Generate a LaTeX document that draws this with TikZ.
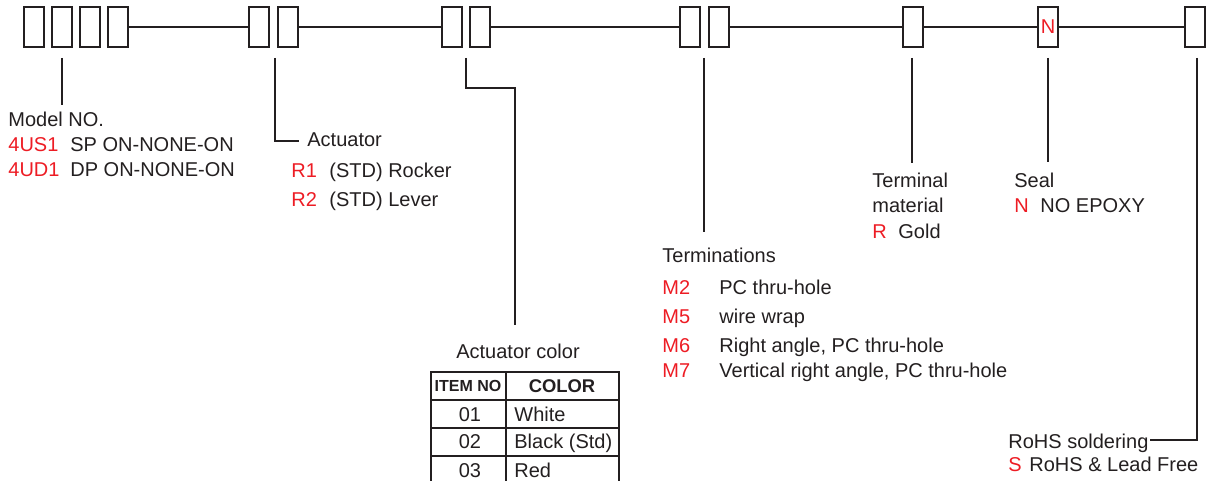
\documentclass[tikz,border=0pt]{standalone}
\usepackage{fontspec}
\setmainfont{Liberation Sans}
\definecolor{codered}{HTML}{ED1C24}
\definecolor{ink}{HTML}{231F20}
\tikzset{
	cell/.style={draw=ink,line width=1pt,minimum width=10pt,minimum height=20pt,inner sep=0pt,outer sep=0pt},
	lbl/.style={anchor=base west,inner sep=0pt,text=ink,font=\fontsize{10}{12}\selectfont},
	code/.style={lbl,text=codered},
	wire/.style={draw=ink,line width=0.9pt},
}
\begin{document}
\begin{tikzpicture}[x=0.5pt,y=-0.5pt]
	\useasboundingbox (0,0) rectangle (1207,481);
	% part number boxes
	\foreach \n/\x in {m1/34,m2/62,m3/90,m4/118,a1/259,a2/288,c1/452,c2/480,t1/690,t2/719,g1/913,r1/1195}
		\node[cell] (\n) at (\x,27) {};
	\node[cell,text=codered,font=\fontsize{10}{12}\selectfont] (s1) at (1048,27) {N};
	\draw[wire] (m4) -- (a1) (a2) -- (c1) (c2) -- (t1) (t2) -- (g1) (g1) -- (s1) (s1) -- (r1);
	% leaders
	\coordinate (mA) at (62,58);  \coordinate (mB) at (62,105);
	\coordinate (aA) at (275,58); \coordinate (aB) at (299,141);
	\coordinate (cA) at (466,58); \coordinate (cB) at (515,88); \coordinate (cC) at (515,325);
	\coordinate (tA) at (704,58); \coordinate (tB) at (704,232);
	\coordinate (gA) at (912,58); \coordinate (gB) at (912,163);
	\coordinate (sA) at (1048,58); \coordinate (sB) at (1048,162);
	\coordinate (rA) at (1197,58); \coordinate (rB) at (1150,440);
	\draw[wire] (mA) -- (mB);
	\draw[wire] (aA) |- (aB);
	\draw[wire] (cA) |- (cB) -- (cC);
	\draw[wire] (tA) -- (tB);
	\draw[wire] (gA) -- (gB);
	\draw[wire] (sA) -- (sB);
	\draw[wire] (rA) |- (rB);
	% model
	\node[lbl] (model) at (8,127) {Model NO.};
	\node[code] at (8,152) {4US1};
	\node[lbl] at (70,152) {SP ON-NONE-ON};
	\node[code] at (8,177) {4UD1};
	\node[lbl] at (70,177) {DP ON-NONE-ON};
	% actuator
	\node[lbl] (act) at (307,147) {Actuator};
	\node[code] at (291,178) {R1};
	\node[lbl] at (329,178) {(STD) Rocker};
	\node[code] at (291,206) {R2};
	\node[lbl] at (329,206) {(STD) Lever};
	% terminal material
	\node[lbl] (term) at (872,188) {Terminal};
	\node[lbl] at (872,213) {material};
	\node[code] at (872,239) {R};
	\node[lbl] at (898,239) {Gold};
	% seal
	\node[lbl] (seal) at (1014,188) {Seal};
	\node[code] at (1014,213) {N};
	\node[lbl] at (1040,213) {NO EPOXY};
	% terminations
	\node[lbl] (tmn) at (662,263) {Terminations};
	\foreach \c/\t/\y in {M2/PC thru-hole/295,M5/wire wrap/323,M6/{Right angle, PC thru-hole}/352,M7/{Vertical right angle, PC thru-hole}/378}{
		\node[code] at (662,\y) {\c};
		\node[lbl] at (719,\y) {\t};
	}
	% rohs
	\node[lbl] (rohs) at (1008,448) {RoHS soldering};
	\node[code] at (1008,472) {S};
	\node[lbl] at (1029,472) {RoHS \& Lead Free};
	% actuator color table
	\node[lbl,anchor=base] (color) at (518,358) {Actuator color};
	\draw[wire,line width=0.8pt] (431,484) |- (619,372) -- (619,484);
	\draw[wire,line width=0.8pt] (506,372) -- (506,484);
	\foreach \y in {400,428,456}
		\draw[wire,line width=0.8pt] (431,\y) -- (619,\y);
	\node[lbl,anchor=base,font=\fontsize{8}{10}\selectfont\bfseries] at (468,392) {ITEM NO};
	\node[lbl,anchor=base,font=\fontsize{9.2}{11}\selectfont\bfseries] at (562,393) {COLOR};
	\foreach \no/\col/\y in {01/White/422,02/Black (Std)/449,03/Red/477}{
		\node[lbl,anchor=base] at (470,\y) {\no};
		\node[lbl] at (514,\y) {\col};
	}
\end{tikzpicture}
\end{document}
